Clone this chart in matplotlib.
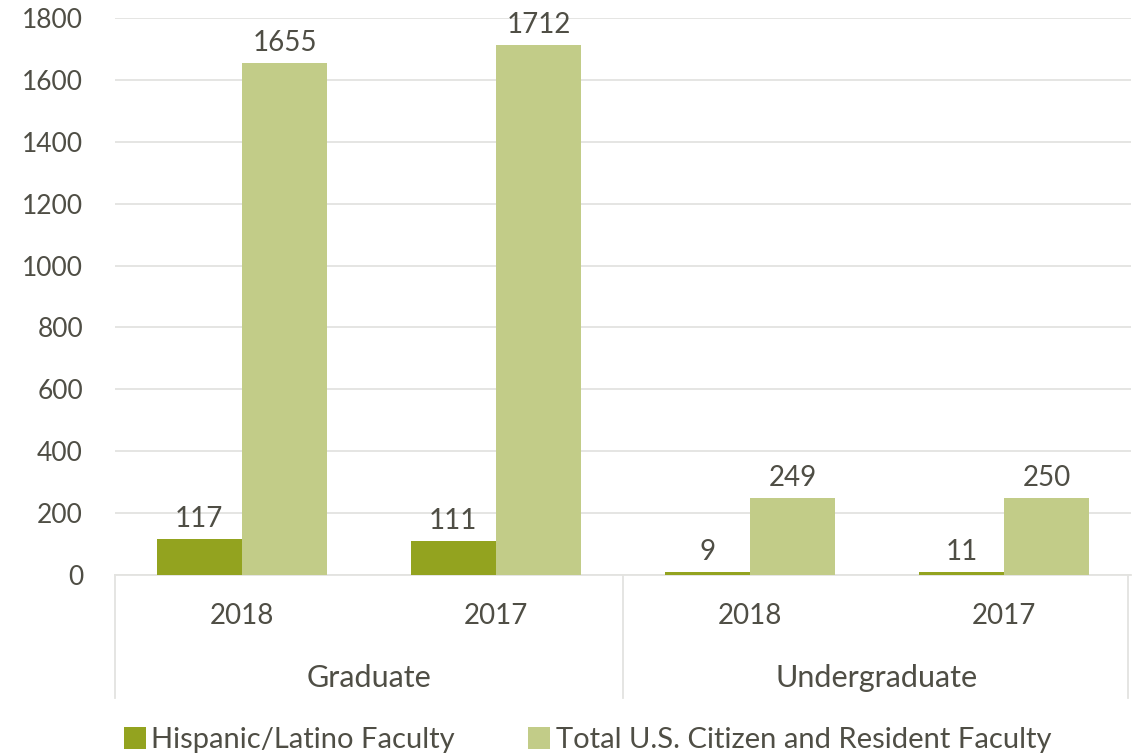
import numpy as np
import matplotlib.pyplot as plt
import matplotlib.transforms as mtransforms

years = ['2018', '2017', '2018', '2017']
groups = ['Graduate', 'Undergraduate']
hispanic = [117, 111, 9, 11]
total = [1655, 1712, 249, 250]
series_names = ['Hispanic/Latino Faculty', 'Total U.S. Citizen and Resident Faculty']

dark = '#93a31f'
light = '#c2cc88'
txt = '#4f4e45'
grid = '#e3e3e0'

plt.rcParams['font.family'] = ['Lato', 'DejaVu Sans']

fig = plt.figure(figsize=(11.32, 7.54), dpi=100)
ax = fig.add_axes([0.1016, 0.2374, 0.8975, 0.7386])

x = np.arange(len(years))
w = 0.336
b1 = ax.bar(x - w/2, hispanic, w, color=dark, label=series_names[0], zorder=3)
b2 = ax.bar(x + w/2, total, w, color=light, label=series_names[1], zorder=3)

ax.bar_label(b1, padding=5, fontsize=20, color=txt)
ax.bar_label(b2, padding=5, fontsize=20, color=txt)

ax.set_xlim(-0.5, 3.5)
ax.set_ylim(0, 1800)
ax.set_yticks(np.arange(0, 1801, 200))
ax.yaxis.grid(True, color=grid, lw=1.3, zorder=0)
ax.tick_params(axis='y', length=0, labelsize=19, labelcolor=txt, pad=23)
ax.tick_params(axis='x', length=0, labelsize=20, labelcolor=txt, pad=20)
ax.set_xticks(x)
ax.set_xticklabels(years)
for s in ['top', 'right', 'left']:
    ax.spines[s].set_visible(False)
ax.spines['bottom'].set_color(grid)
ax.spines['bottom'].set_linewidth(1.3)

# second level of category axis
trans = mtransforms.blended_transform_factory(ax.transData, ax.transAxes)
for i, g in enumerate(groups):
    ax.text(2*i + 0.5, -0.185, g, transform=trans, ha='center', va='center',
            fontsize=22, color=txt)
for xs in [-0.5, 1.5, 3.49]:
    ax.plot([xs, xs], [0, -0.22], transform=trans, color=grid, lw=1.3,
            clip_on=False)

ax.legend(loc='lower center', bbox_to_anchor=(0.465, -0.367), ncol=2,
          frameon=False, fontsize=21, labelcolor=txt, handlelength=0.75,
          handleheight=0.75, handletextpad=0.2, columnspacing=2.5)

fig.savefig('out.png', dpi=100)
